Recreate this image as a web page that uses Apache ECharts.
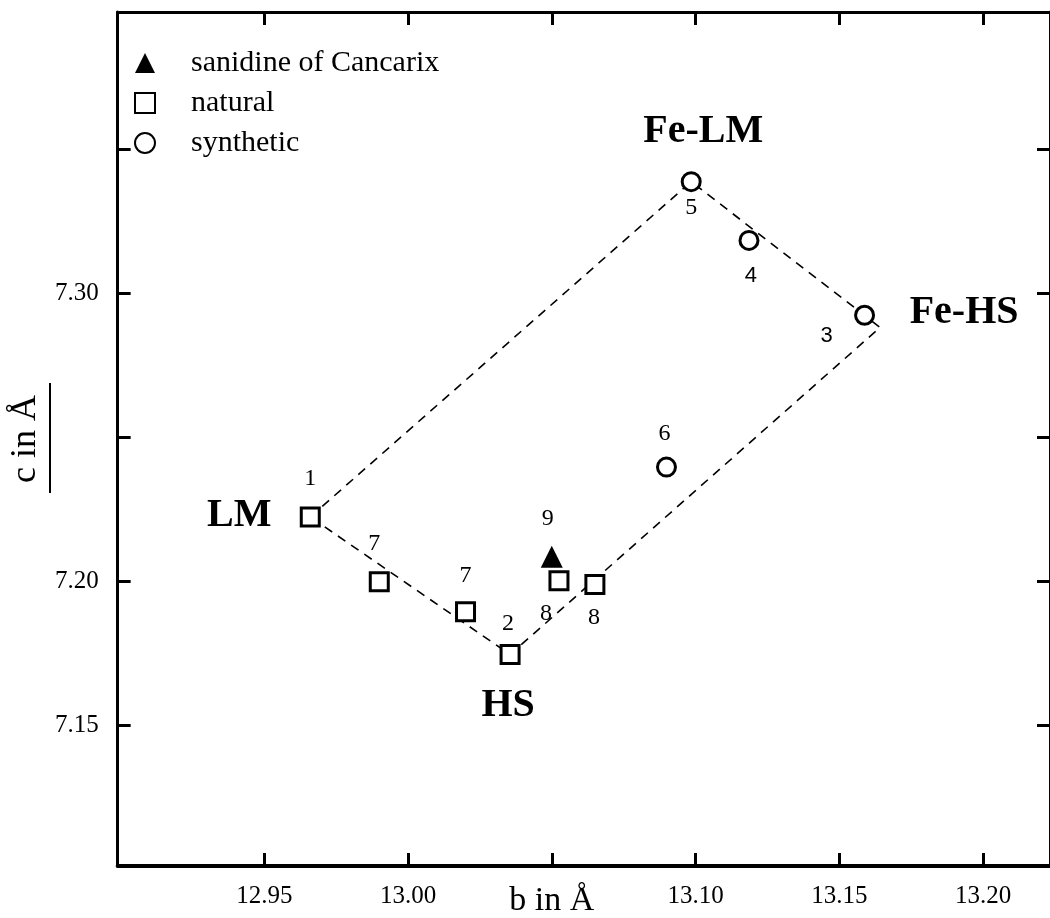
<!DOCTYPE html>
<html>
<head>
<meta charset="utf-8">
<script src="https://cdn.jsdelivr.net/npm/echarts@6/dist/echarts.min.js"></script>
<style>
  html, body { margin: 0; padding: 0; background: #fff; }
  #main { width: 1050px; height: 918px; }
</style>
</head>
<body>
<div id="main"></div>
<script>
// data
const bNatural = [12.966, 12.990, 13.020, 13.0355, 13.0525, 13.065];
const cNatural = [7.2225, 7.2000, 7.1896, 7.1747, 7.2003, 7.1990];
const idNatural = ['1', '7', '7', '2', '8', '8'];

const bSynthetic = [13.0985, 13.1186, 13.1588, 13.0899];
const cSynthetic = [7.3389, 7.3185, 7.2925, 7.2398];
const idSynthetic = ['5', '4', '3', '6'];

const bSanidine = [13.050];
const cSanidine = [7.2087];
const idSanidine = ['9'];

// corners of the dashed field
const fieldNames = ['LM', 'Fe-LM', 'Fe-HS', 'HS'];
const fieldB = [12.966, 13.0985, 13.1642, 13.0355];
const fieldC = [7.2225, 7.3389, 7.2883, 7.1747];

const xTicks = [12.95, 13.00, 13.05, 13.10, 13.15, 13.20];
const yTicks = [7.15, 7.20, 7.25, 7.30, 7.35];
const yLabels = [7.15, 7.20, 7.30];

const serif = "'Liberation Serif', 'Times New Roman', serif";
const sans = "'Liberation Sans', Arial, sans-serif";

// label placement (offsets from the marker centre)
const offNatural = [[0, -38], [-5, -38], [0, -36], [-2, -31], [-13, 33], [-1, 33]];
const offSynthetic = [[0, 26], [2, 36], [-38, 21], [-2, -33]];
const offSanidine = [[-4, -38]];
const offField = [[-71, -1], [12, -50], [84, -15], [-2, 51]];
const sansIds = ['3', '4'];

function points(bs, cs, ids, offs) {
  return bs.map((b, i) => ({
    value: [b, cs[i]],
    name: ids[i],
    label: {
      offset: offs[i],
      fontFamily: sansIds.indexOf(ids[i]) >= 0 ? sans : serif,
      fontSize: sansIds.indexOf(ids[i]) >= 0 ? 22 : 24
    }
  }));
}

const numLabel = {
  show: true,
  position: 'inside',
  formatter: p => p.name,
  color: '#000',
  align: 'center',
  verticalAlign: 'middle'
};

const outline = fieldB.map((b, i) => [b, fieldC[i]]);
outline.push([fieldB[0], fieldC[0]]);

const chart = echarts.init(document.getElementById('main'));

const tickStyle = { show: true, inside: true, length: 13, lineStyle: { color: '#000', width: 3 } };

const option = {
  backgroundColor: '#fff',
  animation: false,
  grid: { left: 91, right: -2, top: 12, bottom: 50 },
  legend: {
    data: ['sanidine of Cancarix', 'natural', 'synthetic'],
    orient: 'vertical',
    left: 129,
    top: 43,
    itemWidth: 20,
    itemHeight: 20,
    itemGap: 10,
    formatter: n => '{g|}' + n,
    textStyle: {
      fontFamily: serif,
      fontSize: 30,
      color: '#000',
      lineHeight: 30,
      rich: { g: { width: 31 } }
    }
  },
  xAxis: [{
    type: 'value',
    min: 12.899,
    max: 13.2233,
    position: 'bottom',
    splitLine: { show: false },
    axisLine: { show: true, onZero: false, lineStyle: { color: '#000', width: 4 } },
    axisTick: Object.assign({ customValues: xTicks }, tickStyle),
    axisLabel: {
      customValues: xTicks,
      margin: 18,
      fontFamily: serif,
      fontSize: 25,
      color: '#000',
      formatter: v => Math.abs(v - 13.05) < 1e-6 ? '{n|b in Å}' : '{t|' + v.toFixed(2) + '}',
      rich: {
        t: { fontFamily: serif, fontSize: 25, color: '#000', letterSpacing: 3 },
        n: { fontFamily: serif, fontSize: 34, color: '#000', letterSpacing: 5 }
      }
    }
  }, {
    type: 'value',
    min: 12.899,
    max: 13.2233,
    position: 'top',
    splitLine: { show: false },
    axisLine: { show: true, onZero: false, lineStyle: { color: '#000', width: 3 } },
    axisTick: Object.assign({ customValues: xTicks }, tickStyle),
    axisLabel: { show: false }
  }],
  yAxis: [{
    type: 'value',
    min: 7.1013,
    max: 7.3978,
    position: 'left',
    name: 'c in Å',
    nameLocation: 'middle',
    nameRotate: 90,
    nameGap: 37,
    nameTextStyle: { fontFamily: serif, fontSize: 36, color: '#000', letterSpacing: 4 },
    splitLine: { show: false },
    axisLine: { show: true, onZero: false, lineStyle: { color: '#000', width: 3 } },
    axisTick: Object.assign({ customValues: yTicks }, tickStyle),
    axisLabel: {
      customValues: yLabels,
      margin: 19,
      fontFamily: serif,
      fontSize: 25,
      color: '#000',
      formatter: v => v.toFixed(2)
    }
  }, {
    type: 'value',
    min: 7.1013,
    max: 7.3978,
    position: 'right',
    splitLine: { show: false },
    axisLine: { show: true, onZero: false, lineStyle: { color: '#000', width: 3 } },
    axisTick: Object.assign({ customValues: yTicks }, tickStyle),
    axisLabel: { show: false }
  }],
  series: [
    {
      name: 'field',
      type: 'line',
      data: outline,
      symbol: 'none',
      silent: true,
      z: 1,
      lineStyle: { color: '#000', width: 1.6, type: [9, 7] }
    },
    {
      name: 'sanidine of Cancarix',
      type: 'scatter',
      symbol: 'triangle',
      symbolSize: 22,
      z: 3,
      itemStyle: { color: '#000', opacity: 1 },
      label: numLabel,
      data: points(bSanidine, cSanidine, idSanidine, offSanidine)
    },
    {
      name: 'natural',
      type: 'scatter',
      symbol: 'rect',
      symbolSize: 18,
      z: 3,
      itemStyle: { color: '#fff', borderColor: '#000', borderWidth: 3, opacity: 1 },
      label: numLabel,
      data: points(bNatural, cNatural, idNatural, offNatural)
    },
    {
      name: 'synthetic',
      type: 'scatter',
      symbol: 'circle',
      symbolSize: 18,
      z: 3,
      itemStyle: { color: '#fff', borderColor: '#000', borderWidth: 3, opacity: 1 },
      label: numLabel,
      data: points(bSynthetic, cSynthetic, idSynthetic, offSynthetic)
    },
    {
      name: 'names',
      type: 'scatter',
      symbolSize: 0,
      silent: true,
      z: 4,
      itemStyle: { color: '#000', opacity: 1 },
      label: {
        show: true,
        position: 'inside',
        formatter: p => p.name,
        fontFamily: serif,
        fontWeight: 'bold',
        fontSize: 40,
        color: '#000',
        opacity: 1,
        align: 'center',
        verticalAlign: 'middle'
      },
      data: fieldNames.map((n, i) => ({
        value: [fieldB[i], fieldC[i]],
        name: n,
        label: { offset: offField[i], letterSpacing: n.indexOf('Fe') === 0 ? 4 : 0 }
      }))
    }
  ],
  graphic: [{
    type: 'line',
    shape: { x1: 50, y1: 383, x2: 50, y2: 493 },
    style: { stroke: '#000', lineWidth: 2 }
  }]
};

chart.setOption(option);
</script>
</body>
</html>
